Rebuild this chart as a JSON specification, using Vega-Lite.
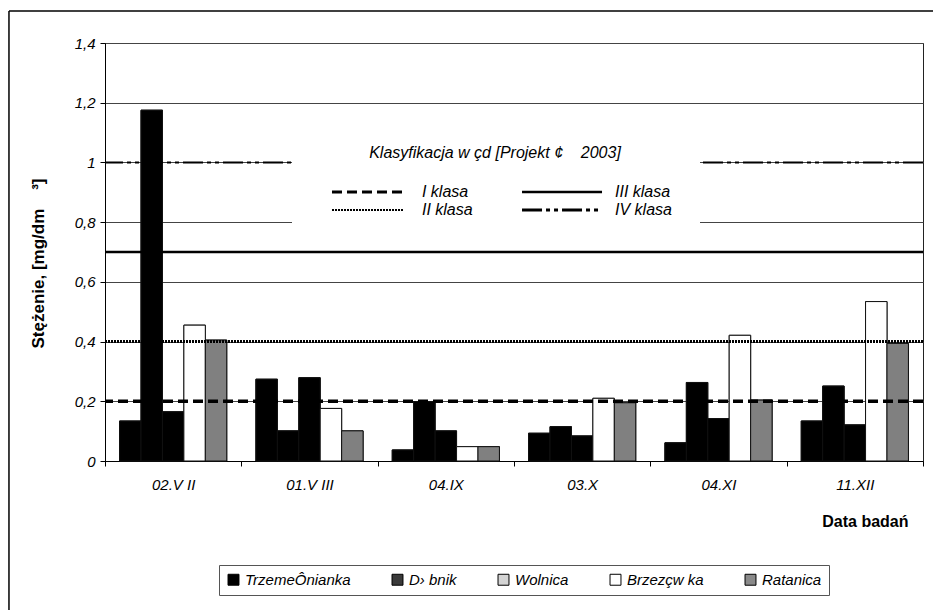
{
  "$schema": "https://vega.github.io/schema/vega-lite/v6.json",
  "autosize": {"type": "none"},
  "width": 818,
  "height": 418,
  "padding": {"left": 105, "top": 43, "right": 10, "bottom": 149},
  "background": "white",
  "config": {
    "view": {"stroke": "#222", "strokeWidth": 1},
    "font": "Liberation Sans",
    "axis": {
      "labelFont": "Liberation Sans",
      "labelFontStyle": "italic",
      "labelFontSize": 15,
      "labelColor": "#000",
      "tickColor": "#000",
      "domainColor": "#000",
      "tickSize": 5,
      "titleFont": "Liberation Sans",
      "titleFontWeight": "bold",
      "titleFontSize": 16,
      "titleColor": "#000"
    }
  },
  "datasets": {
    "conc": [
      {"date": "02.V II", "river": "TrzemeÔnianka", "value": 0.134},
      {"date": "02.V II", "river": "D› bnik", "value": 1.175},
      {"date": "02.V II", "river": "Wolnica", "value": 0.165},
      {"date": "02.V II", "river": "Brzezçw ka", "value": 0.455},
      {"date": "02.V II", "river": "Ratanica", "value": 0.405},
      {"date": "01.V III", "river": "TrzemeÔnianka", "value": 0.274},
      {"date": "01.V III", "river": "D› bnik", "value": 0.101},
      {"date": "01.V III", "river": "Wolnica", "value": 0.279},
      {"date": "01.V III", "river": "Brzezçw ka", "value": 0.176},
      {"date": "01.V III", "river": "Ratanica", "value": 0.101},
      {"date": "04.IX", "river": "TrzemeÔnianka", "value": 0.037},
      {"date": "04.IX", "river": "D› bnik", "value": 0.199},
      {"date": "04.IX", "river": "Wolnica", "value": 0.101},
      {"date": "04.IX", "river": "Brzezçw ka", "value": 0.048},
      {"date": "04.IX", "river": "Ratanica", "value": 0.048},
      {"date": "03.X", "river": "TrzemeÔnianka", "value": 0.093},
      {"date": "03.X", "river": "D› bnik", "value": 0.115},
      {"date": "03.X", "river": "Wolnica", "value": 0.084},
      {"date": "03.X", "river": "Brzezçw ka", "value": 0.21},
      {"date": "03.X", "river": "Ratanica", "value": 0.195},
      {"date": "04.XI", "river": "TrzemeÔnianka", "value": 0.061},
      {"date": "04.XI", "river": "D› bnik", "value": 0.263},
      {"date": "04.XI", "river": "Wolnica", "value": 0.142},
      {"date": "04.XI", "river": "Brzezçw ka", "value": 0.421},
      {"date": "04.XI", "river": "Ratanica", "value": 0.204},
      {"date": "11.XII", "river": "TrzemeÔnianka", "value": 0.134},
      {"date": "11.XII", "river": "D› bnik", "value": 0.251},
      {"date": "11.XII", "river": "Wolnica", "value": 0.121},
      {"date": "11.XII", "river": "Brzezçw ka", "value": 0.534},
      {"date": "11.XII", "river": "Ratanica", "value": 0.394}
    ]
  },
  "resolve": {"scale": {"x": "independent"}},
  "layer": [
    {
      "data": {"name": "conc"},
      "mark": {"type": "bar", "stroke": "#111", "strokeWidth": 1},
      "encoding": {
        "x": {
          "field": "date", "type": "nominal",
          "sort": ["02.V II", "01.V III", "04.IX", "03.X", "04.XI", "11.XII"],
          "scale": {"paddingInner": 0, "paddingOuter": 0},
          "axis": {"title": "Data badań", "labelAngle": 0, "tickBand": "extent", "labelPadding": 11, "titlePadding": 21, "titleAnchor": "end", "titleAlign": "right", "titleX": 803, "grid": false}
        },
        "xOffset": {
          "field": "river", "type": "nominal",
          "sort": ["TrzemeÔnianka", "D› bnik", "Wolnica", "Brzezçw ka", "Ratanica"],
          "scale": {"paddingInner": 0, "paddingOuter": 0.68}
        },
        "y": {
          "field": "value", "type": "quantitative",
          "scale": {"domain": [0, 1.4], "nice": false},
          "axis": {
            "title": "Stężenie, [mg/dm\u00a0\u00a0\u00a0\u00a0³]",
            "titleFontSize": 17,
            "titleY": 220,
            "values": [0, 0.2, 0.4, 0.6, 0.8, 1, 1.2, 1.4],
            "labelExpr": "replace(format(datum.value, '.1~f'), '.', ',')",
            "grid": true, "gridColor": "#444", "gridWidth": 1,
            "labelPadding": 5, "titlePadding": 27
          }
        },
        "fill": {
          "field": "river", "type": "nominal",
          "scale": {"domain": ["TrzemeÔnianka", "D› bnik", "Wolnica", "Brzezçw ka", "Ratanica"], "range": ["#000000", "#3a3a3a", "#d4d4d4", "#ffffff", "#8a8a8a"]},
          "legend": {
            "title": null,
            "orient": "none",
            "legendX": 114,
            "legendY": 522,
            "direction": "horizontal",
            "columns": 5,
            "strokeColor": "#555",
            "padding": 7,
            "symbolType": "square",
            "symbolSize": 120,
            "symbolStrokeColor": "#000",
            "symbolStrokeWidth": 1,
            "labelFont": "Liberation Sans",
            "labelFontStyle": "italic",
            "labelFontSize": 15,
            "labelColor": "#000",
            "labelOffset": 4,
            "columnPadding": 39
          }
        }
      }
    },
    {
      "data": {"name": "conc"},
      "mark": {"type": "bar", "stroke": "#111", "strokeWidth": 1},
      "encoding": {
        "x": {
          "field": "date", "type": "nominal",
          "sort": ["02.V II", "01.V III", "04.IX", "03.X", "04.XI", "11.XII"],
          "scale": {"paddingInner": 0, "paddingOuter": 0},
          "axis": null
        },
        "xOffset": {
          "field": "river", "type": "nominal",
          "sort": ["TrzemeÔnianka", "D› bnik", "Wolnica", "Brzezçw ka", "Ratanica"]
        },
        "y": {"field": "value", "type": "quantitative", "title": "Stężenie, [mg/dm\u00a0\u00a0\u00a0\u00a0³]"},
        "fill": {
          "condition": [
            {"test": "datum.river === 'Brzezçw ka'", "value": "#ffffff"},
            {"test": "datum.river === 'Ratanica'", "value": "#808080"}
          ],
          "value": "#000000"
        }
      }
    },
    {
      "data": {
        "values": [
          {"klasa": "I", "v": 0.2},
          {"klasa": "II", "v": 0.4},
          {"klasa": "III", "v": 0.7},
          {"klasa": "IV", "v": 1.0}
        ]
      },
      "mark": {"type": "rule", "color": "#000"},
      "encoding": {
        "y": {"field": "v", "type": "quantitative"},
        "strokeDash": {"field": "klasa", "type": "nominal", "scale": {"domain": ["I", "II", "III", "IV"], "range": [[10, 5], [2, 1], [1, 0], [20, 4, 4, 4, 4, 4]]}, "legend": null},
        "strokeWidth": {"field": "klasa", "type": "nominal", "scale": {"domain": ["I", "II", "III", "IV"], "range": [3.5, 2, 2.5, 3]}, "legend": null}
      }
    },
    {
      "data": {"values": [{}]},
      "mark": {"type": "rect", "fill": "white", "stroke": null},
      "encoding": {
        "x": {"datum": 0.2286, "type": "quantitative", "scale": {"domain": [0, 1]}, "axis": null},
        "x2": {"datum": 0.7274},
        "y": {"datum": 1.1, "type": "quantitative"},
        "y2": {"datum": 0.78}
      }
    },
    {
      "data": {"values": [{}]},
      "mark": {"type": "text", "align": "center", "baseline": "middle", "font": "Liberation Sans", "fontStyle": "italic", "fontSize": 16, "color": "#000", "text": "Klasyfikacja w çd [Projekt ¢\u00a0\u00a0\u00a0\u00a02003]"},
      "encoding": {
        "x": {"datum": 0.4768, "type": "quantitative", "scale": {"domain": [0, 1]}, "axis": null},
        "y": {"datum": 1.0315, "type": "quantitative"}
      }
    },
    {
      "data": {"values": [{}]},
      "mark": {"type": "text", "align": "left", "baseline": "middle", "font": "Liberation Sans", "fontStyle": "italic", "fontSize": 16, "color": "#000", "text": "I klasa"},
      "encoding": {
        "x": {"datum": 0.3875, "type": "quantitative", "scale": {"domain": [0, 1]}, "axis": null},
        "y": {"datum": 0.901, "type": "quantitative"}
      }
    },
    {
      "data": {"values": [{}]},
      "mark": {"type": "text", "align": "left", "baseline": "middle", "font": "Liberation Sans", "fontStyle": "italic", "fontSize": 16, "color": "#000", "text": "II klasa"},
      "encoding": {
        "x": {"datum": 0.3875, "type": "quantitative", "scale": {"domain": [0, 1]}, "axis": null},
        "y": {"datum": 0.8407, "type": "quantitative"}
      }
    },
    {
      "data": {"values": [{}]},
      "mark": {"type": "text", "align": "left", "baseline": "middle", "font": "Liberation Sans", "fontStyle": "italic", "fontSize": 16, "color": "#000", "text": "III klasa"},
      "encoding": {
        "x": {"datum": 0.6235, "type": "quantitative", "scale": {"domain": [0, 1]}, "axis": null},
        "y": {"datum": 0.901, "type": "quantitative"}
      }
    },
    {
      "data": {"values": [{}]},
      "mark": {"type": "text", "align": "left", "baseline": "middle", "font": "Liberation Sans", "fontStyle": "italic", "fontSize": 16, "color": "#000", "text": "IV klasa"},
      "encoding": {
        "x": {"datum": 0.6235, "type": "quantitative", "scale": {"domain": [0, 1]}, "axis": null},
        "y": {"datum": 0.8407, "type": "quantitative"}
      }
    },
    {
      "data": {"values": [{}]},
      "mark": {"type": "rule", "color": "#000", "strokeWidth": 3, "strokeDash": [10, 5]},
      "encoding": {
        "x": {"datum": 0.2775, "type": "quantitative", "scale": {"domain": [0, 1]}, "axis": null},
        "x2": {"datum": 0.3643},
        "y": {"datum": 0.901, "type": "quantitative"}
      }
    },
    {
      "data": {"values": [{}]},
      "mark": {"type": "rule", "color": "#000", "strokeWidth": 2, "strokeDash": [2, 1]},
      "encoding": {
        "x": {"datum": 0.2775, "type": "quantitative", "scale": {"domain": [0, 1]}, "axis": null},
        "x2": {"datum": 0.3643},
        "y": {"datum": 0.8407, "type": "quantitative"}
      }
    },
    {
      "data": {"values": [{}]},
      "mark": {"type": "rule", "color": "#000", "strokeWidth": 2.5},
      "encoding": {
        "x": {"datum": 0.5098, "type": "quantitative", "scale": {"domain": [0, 1]}, "axis": null},
        "x2": {"datum": 0.6076},
        "y": {"datum": 0.901, "type": "quantitative"}
      }
    },
    {
      "data": {"values": [{}]},
      "mark": {"type": "rule", "color": "#000", "strokeWidth": 3, "strokeDash": [20, 4, 4, 4, 4, 4]},
      "encoding": {
        "x": {"datum": 0.5098, "type": "quantitative", "scale": {"domain": [0, 1]}, "axis": null},
        "x2": {"datum": 0.6076},
        "y": {"datum": 0.8407, "type": "quantitative"}
      }
    },
    {
      "data": {"values": [{}]},
      "mark": {"type": "rule", "color": "#000", "strokeWidth": 1.5},
      "encoding": {
        "x": {"datum": -0.1174, "type": "quantitative", "scale": {"domain": [0, 1]}, "axis": null},
        "x2": {"datum": 1.02},
        "y": {"datum": 1.507, "type": "quantitative"}
      }
    },
    {
      "data": {"values": [{}]},
      "mark": {"type": "rule", "color": "#000", "strokeWidth": 1.5},
      "encoding": {
        "x": {"datum": -0.1174, "type": "quantitative", "scale": {"domain": [0, 1]}, "axis": null},
        "y": {"datum": 1.507, "type": "quantitative"},
        "y2": {"datum": -0.55}
      }
    }
  ]
}
